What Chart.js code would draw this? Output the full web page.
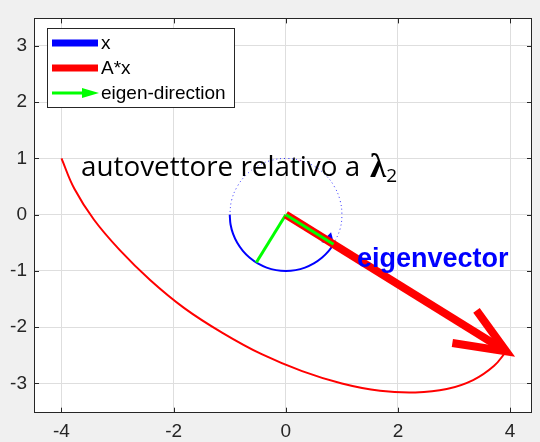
<!DOCTYPE html>
<html>
<head>
<meta charset="utf-8">
<script src="https://cdn.jsdelivr.net/npm/chart.js@4.4.0/dist/chart.umd.min.js"></script>
<style>
  body { margin: 0; background: #f0f0f0; }
  canvas { display: block; }
</style>
</head>
<body>
<canvas id="chart" width="540" height="442"></canvas>
<script>
// unit circle, the part already swept by x (from 180 deg round to the eigenvector)
var circleSweptX = [-1, -0.985, -0.940, -0.866, -0.766, -0.643, -0.5, -0.342, -0.174, 0, 0.174, 0.342, 0.5, 0.643, 0.766, 0.851];
var circleSweptY = [0, -0.174, -0.342, -0.5, -0.643, -0.766, -0.866, -0.940, -0.985, -1, -0.985, -0.940, -0.866, -0.766, -0.643, -0.526];
// rest of the circle (dotted)
var circleRestX = [0.851, 0.966, 1, 0.966, 0.866, 0.707, 0.5, 0.259, 0, -0.259, -0.5, -0.707, -0.866, -0.966, -1];
var circleRestY = [-0.526, -0.259, 0, 0.259, 0.5, 0.707, 0.866, 0.966, 1, 0.966, 0.866, 0.707, 0.5, 0.259, 0];
// trace of A*x over the swept part
var traceX = [-4, -3.77, -3.42, -2.96, -2.42, -1.81, -1.13, -0.43, 0.29, 1, 1.68, 2.31, 2.87, 3.34, 3.71, 3.93];
var traceY = [1, 0.46, -0.09, -0.63, -1.16, -1.66, -2.10, -2.48, -2.78, -3, -3.13, -3.16, -3.10, -2.94, -2.69, -2.43];
// eigen-directions (unit length)
var eig1 = [0.851, -0.526];
var eig2 = [-0.526, -0.851];
// A*x along the eigenvector, with the two arrowhead wings
var axTip = [3.93, -2.43];
var wingA = [2.97, -2.28];
var wingB = [3.40, -1.70];
// arrowhead at the end of the swept circle
var xHead = [0.77, -0.45];

var xTicks = [-4, -2, 0, 2, 4];
var yTicks = [-3, -2, -1, 0, 1, 2, 3];

var axisColor = '#262626';
var tickFont = { family: 'Liberation Sans, Arial, sans-serif', size: 19 };

function pts(xs, ys) {
	var p = [];
	for (var i = 0; i < xs.length; i++) p.push({ x: xs[i], y: ys[i] });
	return p;
}
function seg() {
	var p = [];
	for (var i = 0; i < arguments.length; i++) p.push({ x: arguments[i][0], y: arguments[i][1] });
	return p;
}

// grey figure background, white axes
var backdrop = {
	id: 'backdrop',
	beforeDraw: function(chart) {
		var c = chart.ctx, a = chart.chartArea;
		c.save();
		c.fillStyle = '#f0f0f0';
		c.fillRect(0, 0, chart.width, chart.height);
		c.fillStyle = '#ffffff';
		c.fillRect(a.left, a.top, a.right - a.left, a.bottom - a.top);
		c.restore();
	}
};

// box round the axes with inward tick marks on all four sides
var frame = {
	id: 'frame',
	afterDatasetsDraw: function(chart) {
		var c = chart.ctx, a = chart.chartArea;
		var sx = chart.scales.x, sy = chart.scales.y;
		c.save();
		c.strokeStyle = axisColor;
		c.lineWidth = 1;
		c.beginPath();
		xTicks.forEach(function(v) {
			var px = Math.round(sx.getPixelForValue(v)) + 0.5;
			c.moveTo(px, a.bottom); c.lineTo(px, a.bottom - 5);
			c.moveTo(px, a.top); c.lineTo(px, a.top + 5);
		});
		yTicks.forEach(function(v) {
			var py = Math.round(sy.getPixelForValue(v)) + 0.5;
			c.moveTo(a.left, py); c.lineTo(a.left + 5, py);
			c.moveTo(a.right, py); c.lineTo(a.right - 5, py);
		});
		c.stroke();
		c.strokeRect(Math.round(a.left) + 0.5, Math.round(a.top) + 0.5,
			Math.round(a.right - a.left) - 1, Math.round(a.bottom - a.top));
		c.restore();
	}
};

// text annotations
var notes = {
	id: 'notes',
	afterDatasetsDraw: function(chart) {
		var c = chart.ctx;
		var sx = chart.scales.x, sy = chart.scales.y;
		c.save();
		c.textBaseline = 'alphabetic';
		c.textAlign = 'left';

		var x0 = sx.getPixelForValue(-3.65), y0 = sy.getPixelForValue(0.69);
		c.fillStyle = '#000000';
		c.font = '27.8px "Open Sans", sans-serif';
		var s = 'autovettore relativo a';
		c.fillText(s, x0, y0);
		var lx = x0 + c.measureText(s).width + 10;
		c.font = 'bold 33px "Liberation Serif", serif';
		c.fillText('\u03bb', lx, y0 + 1);
		var sub = lx + c.measureText('\u03bb').width;
		c.font = '19px "Open Sans", sans-serif';
		c.fillText('2', sub, y0 + 6);

		c.fillStyle = '#0000ff';
		c.font = 'bold 27px "Liberation Sans", Arial, sans-serif';
		c.fillText('eigenvector', sx.getPixelForValue(1.27), sy.getPixelForValue(-0.93));
		c.restore();
	}
};

// legend box in the upper left corner
var legendBox = {
	id: 'legendBox',
	afterDraw: function(chart) {
		var c = chart.ctx;
		var bx = 47, by = 28, bw = 187, bh = 79;
		c.save();
		c.fillStyle = '#ffffff';
		c.fillRect(bx, by, bw, bh);
		c.strokeStyle = axisColor;
		c.lineWidth = 1;
		c.strokeRect(bx + 0.5, by + 0.5, bw, bh);

		c.lineCap = 'butt';
		c.lineWidth = 7;
		c.strokeStyle = '#0000ff';
		c.beginPath(); c.moveTo(52, 43); c.lineTo(98, 43); c.stroke();
		c.strokeStyle = '#ff0000';
		c.beginPath(); c.moveTo(52, 68); c.lineTo(98, 68); c.stroke();

		c.lineWidth = 3;
		c.strokeStyle = '#00ff00';
		c.beginPath(); c.moveTo(52, 93); c.lineTo(86, 93); c.stroke();
		c.fillStyle = '#00ff00';
		c.beginPath(); c.moveTo(99, 93); c.lineTo(82, 88); c.lineTo(82, 98); c.closePath(); c.fill();

		c.fillStyle = '#000000';
		c.font = '19px "Liberation Sans", Arial, sans-serif';
		c.textBaseline = 'middle';
		c.fillText('x', 101, 44);
		c.fillText('A*x', 101, 69);
		c.fillText('eigen-direction', 101, 94);
		c.restore();
	}
};

var config = {
	type: 'scatter',
	data: {
		datasets: [
		{
			label: 'circle',
			data: pts(circleRestX, circleRestY),
			showLine: true, tension: 0.4, pointRadius: 0,
			borderColor: 'rgba(0,0,255,0.8)', borderWidth: 1, borderDash: [1, 3],
			order: 8
		},
		{
			label: 'x',
			data: pts(circleSweptX, circleSweptY),
			showLine: true, tension: 0.4, pointRadius: 0,
			borderColor: '#0000ff', borderWidth: 2,
			order: 7
		},
		{
			label: 'A*x',
			data: pts(traceX, traceY),
			showLine: true, tension: 0.4, pointRadius: 0,
			borderColor: '#ff0000', borderWidth: 2,
			order: 6
		},
		{
			label: 'eigen-direction 2',
			data: seg([0, 0], eig2),
			showLine: true, pointRadius: 0,
			borderColor: '#00ff00', borderWidth: 3,
			order: 5
		},
		{
			label: 'x head',
			data: seg(xHead),
			pointStyle: 'triangle', pointRadius: 8, pointRotation: 15,
			backgroundColor: '#0000ff', borderColor: '#0000ff', borderWidth: 0,
			order: 4
		},
		{
			label: 'A*x shaft',
			data: seg([0, 0], axTip),
			showLine: true, pointRadius: 0,
			borderColor: '#ff0000', borderWidth: 8, borderCapStyle: 'butt',
			order: 3
		},
		{
			label: 'A*x head',
			data: seg(wingA, axTip, wingB),
			showLine: true, pointRadius: 0,
			borderColor: '#ff0000', borderWidth: 8, borderCapStyle: 'butt', borderJoinStyle: 'miter',
			order: 2
		},
		{
			label: 'eigen-direction',
			data: seg([0, 0], eig1),
			showLine: true, pointRadius: 0,
			borderColor: '#00ff00', borderWidth: 3,
			order: 1
		}]
	},
	options: {
		responsive: false,
		animation: false,
		devicePixelRatio: 1,
		layout: { padding: { top: 16, right: 6, left: 0, bottom: 0 } },
		plugins: {
			legend: { display: false },
			tooltip: { enabled: false }
		},
		scales: {
			x: {
				min: -4.49, max: 4.39,
				afterBuildTicks: function(s) { s.ticks = xTicks.map(function(v) { return { value: v }; }); },
				afterFit: function(s) { s.height = 29.3; },
				ticks: { font: tickFont, color: axisColor, padding: 8 },
				grid: { color: '#dedede', drawTicks: false },
				border: { display: false }
			},
			y: {
				min: -3.52, max: 3.49,
				afterBuildTicks: function(s) { s.ticks = yTicks.map(function(v) { return { value: v }; }); },
				afterFit: function(s) { s.width = 34; },
				ticks: { font: tickFont, color: axisColor, padding: 7 },
				grid: { color: '#dedede', drawTicks: false },
				border: { display: false }
			}
		}
	},
	plugins: [backdrop, frame, notes, legendBox]
};

window.myChart = new Chart(document.getElementById('chart').getContext('2d'), config);
</script>
</body>
</html>
